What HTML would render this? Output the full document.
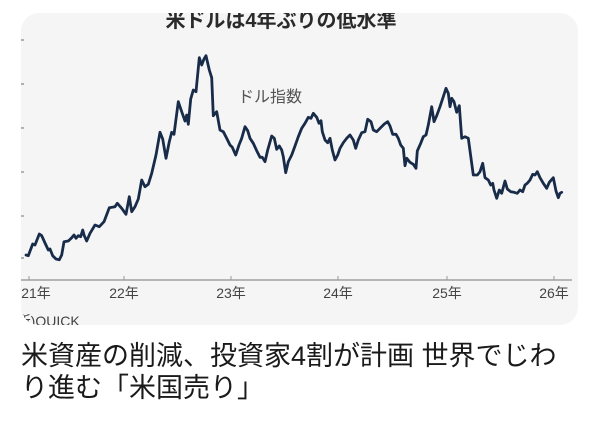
<!DOCTYPE html>
<html>
<head>
<meta charset="utf-8">
<style>
  html,body{margin:0;padding:0;background:#ffffff;}
  body{width:600px;height:421px;position:relative;overflow:hidden;}
  .card{position:absolute;left:21px;top:13px;width:557px;height:312px;border-radius:18px;overflow:hidden;background:#f5f5f5;}
  .card svg{position:absolute;left:-21px;top:-13px;}
  .headline{position:absolute;left:21px;top:340px;width:575px;font-family:"Liberation Sans","Noto Sans CJK JP",sans-serif;font-size:27px;line-height:32px;color:#1a1a1a;white-space:nowrap;}
</style>
</head>
<body>
<div class="card">
<svg width="600" height="421" viewBox="0 0 600 421" xmlns="http://www.w3.org/2000/svg">
  <text x="281" y="27" text-anchor="middle" font-family="Liberation Sans, Noto Sans CJK JP, sans-serif" font-size="20" font-weight="bold" fill="#2a2a2a">米ドルは4年ぶりの低水準</text>
  <text x="238" y="102" font-family="Liberation Sans, Noto Sans CJK JP, sans-serif" font-size="16" fill="#555">ドル指数</text>
  <g stroke="#888" stroke-width="1.2">
    <line x1="21" y1="40" x2="24" y2="40"/>
    <line x1="21" y1="84" x2="24" y2="84"/>
    <line x1="21" y1="128" x2="24" y2="128"/>
    <line x1="21" y1="172" x2="24" y2="172"/>
    <line x1="21" y1="216" x2="24" y2="216"/>
    <line x1="21" y1="258" x2="24" y2="258"/>
  </g>
  <line x1="21" y1="280" x2="572" y2="280" stroke="#a0a0a0" stroke-width="1.6"/>
  <g stroke="#999" stroke-width="1">
    <line x1="29" y1="276" x2="29" y2="280"/>
    <line x1="124" y1="276" x2="124" y2="280"/>
    <line x1="231" y1="276" x2="231" y2="280"/>
    <line x1="338" y1="276" x2="338" y2="280"/>
    <line x1="447" y1="276" x2="447" y2="280"/>
    <line x1="554" y1="276" x2="554" y2="280"/>
  </g>
  <g font-family="Liberation Sans, Noto Sans CJK JP, sans-serif" font-size="14" fill="#444" text-anchor="middle">
    <text x="36" y="298">21年</text>
    <text x="124" y="298">22年</text>
    <text x="231" y="298">23年</text>
    <text x="338" y="298">24年</text>
    <text x="447" y="298">25年</text>
    <text x="554" y="298">26年</text>
  </g>
  <text x="-2" y="326" font-family="Liberation Sans, Noto Sans CJK JP, sans-serif" font-size="14" fill="#444">(出所)QUICK</text>
  <polyline fill="none" stroke="#182c4a" stroke-width="2.8" stroke-linejoin="round" stroke-linecap="round" points="26,255 28.3,255.7 32.7,244 35,245 39.3,234 41.7,235.7 45,243 48.3,250 50,249 52.7,255.7 56,259 59.3,259.7 61.7,255 64,241.7 68.3,241 71.7,237.7 74,235 76,238.3 78.3,235.7 80.7,236.7 82.7,230 84.3,235.7 86.7,241 90,233.3 95,225 99.3,226.7 104,221.7 109.3,207.7 115,206.7 117.3,203.3 121.7,208.3 126,214.3 129.3,196.7 131.7,211.7 135,206.7 138.3,199 141.7,180 145,186.7 148.3,184.3 151.7,173.3 156,155 160,132.3 162.7,139 166,158.3 169.3,141.7 171.7,132.3 174,134.3 178.3,101.7 181.7,111.7 185,121 186.7,115 188.3,124.3 190.7,99 193.3,90 196,91.7 199.3,57.7 201.7,65 204,59 206,55.7 209.3,70 211.7,77.7 213.3,115.7 216.7,111.7 220,130 223.3,131.7 226.7,138.3 230,145 232.3,147.3 235.7,155 239,145 241.7,138.3 245,126.7 247.7,130.7 250,138.3 253.3,143.3 256.7,150.7 260,157.3 262.3,157.3 265,161.7 267.7,150 271.7,136 274.3,138.3 276.7,149.3 279.3,146 281.7,150 283.3,156.7 285.7,172.7 288.3,161.7 291.7,155 295,146 298.3,136.7 301.7,128.3 305,123.3 308.3,117.3 311,118.3 313.3,113.3 316.7,117.3 319,123.3 321,120.7 322.3,131.7 325,140 327.7,142.7 330,138.3 332.3,150 335,160 337.7,155 340,148.3 343.3,142.7 346.7,138.3 350,135 353.3,140 355.7,148.3 358.3,140 361.7,132.7 365,131.7 367.7,119.3 371,121.7 373.3,130 376.7,131.7 380,128.3 384.3,124 387.7,121.7 390,126 392.7,134.3 396,134.3 398.3,138.3 400.7,145 403.3,148.3 405,165.7 406.7,158.3 410,162.3 413.3,164.3 416,168.3 417.3,151 420.7,143.3 423.3,136.7 426,135 428.3,125 431.7,106.7 434,121.7 436.7,115.7 440,106.7 443.3,96.7 446,88.3 448.3,93.3 450,106.7 451.7,98.3 454,101.7 456.7,112.3 459.3,105.7 461.7,138.3 465,136.7 468.3,138.3 471.7,163.3 473.3,175 477.3,175 480,171.7 482.7,163.3 485,177.7 488.3,180 490.7,185 492.7,183.3 494,190 496.7,198.3 499.3,190 501.7,193.3 505,181 507.3,189 510.7,191.7 514,192.3 517.3,193.3 520,190 522.7,191.7 525,185 527.3,183.3 530,180 532.7,174.3 535,175 537.3,171.7 540,177.7 543.3,183.3 546.7,188.3 549.3,182.3 553.3,177.7 556,191 558.3,197.7 560,193.3 561.7,192.3"/>
</svg>
</div>
<div class="headline">米資産の削減、投資家4割が計画 世界でじわ<br>り進む「米国売り」</div>
</body>
</html>
